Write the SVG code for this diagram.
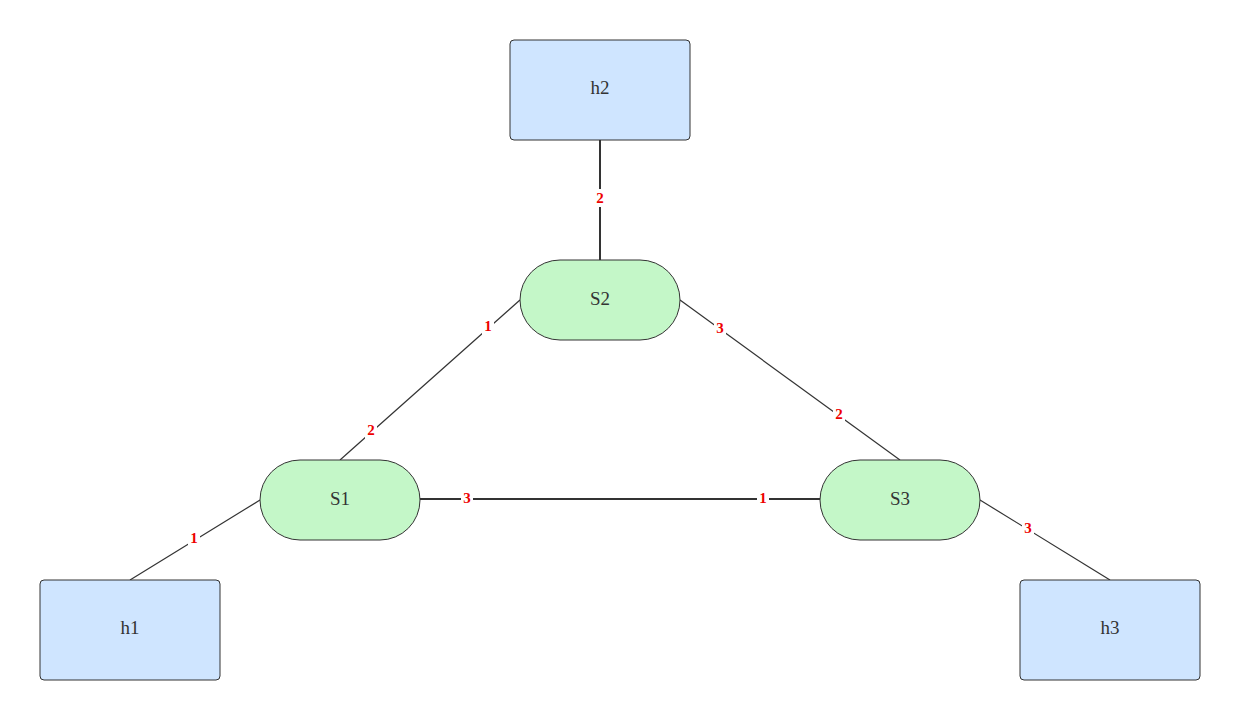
<svg xmlns="http://www.w3.org/2000/svg" width="1240" height="720" viewBox="0 0 1240 720">
<style>
.host{fill:#cfe5ff;stroke:#333;stroke-width:1}
.sw{fill:#c4f7c8;stroke:#333;stroke-width:1}
.nt{font-family:"Liberation Serif","DejaVu Serif",serif;font-size:19px;fill:#333;text-anchor:middle;dominant-baseline:central}
.e{stroke:#333;stroke-width:1.2;fill:none}
.t{stroke-width:2}
.lb{font-family:"Liberation Serif","DejaVu Serif",serif;font-size:15px;font-weight:bold;fill:#ee0000;text-anchor:middle;dominant-baseline:central}
.bg{fill:#fff}
</style>
<rect width="1240" height="720" fill="#fff"/>
<g id="connectors">
<line class="e t" x1="600" y1="140" x2="600" y2="260"/>
<line class="e" x1="520" y1="300" x2="340" y2="460"/>
<line class="e" x1="680" y1="300" x2="900" y2="460"/>
<line class="e t" x1="420" y1="499" x2="820" y2="499"/>
<line class="e" x1="260" y1="500" x2="130" y2="580"/>
<line class="e" x1="980" y1="500" x2="1110" y2="580"/>
<g>
<rect class="bg" x="594" y="189" width="12" height="18"/><text class="lb" x="600" y="198">2</text>
<rect class="bg" x="482" y="317" width="12" height="18"/><text class="lb" x="488" y="326">1</text>
<rect class="bg" x="365" y="421" width="12" height="18"/><text class="lb" x="371" y="430">2</text>
<rect class="bg" x="714" y="319" width="12" height="18"/><text class="lb" x="720" y="328">3</text>
<rect class="bg" x="833" y="405" width="12" height="18"/><text class="lb" x="839" y="414">2</text>
<rect class="bg" x="461" y="489" width="12" height="18"/><text class="lb" x="467" y="498">3</text>
<rect class="bg" x="757" y="489" width="12" height="18"/><text class="lb" x="763" y="498">1</text>
<rect class="bg" x="188" y="529" width="12" height="18"/><text class="lb" x="194" y="538">1</text>
<rect class="bg" x="1022" y="519" width="12" height="18"/><text class="lb" x="1028" y="528">3</text>
</g>
</g>
<g id="h2"><rect class="host" x="510" y="40" width="180" height="100" rx="4"/><text class="nt" x="600" y="87">h2</text></g>
<g id="S2"><rect class="sw" x="520" y="260" width="160" height="80" rx="40"/><text class="nt" x="600" y="298">S2</text></g>
<g id="S1"><rect class="sw" x="260" y="460" width="160" height="80" rx="40"/><text class="nt" x="340" y="498">S1</text></g>
<g id="S3"><rect class="sw" x="820" y="460" width="160" height="80" rx="40"/><text class="nt" x="900" y="498">S3</text></g>
<g id="h1"><rect class="host" x="40" y="580" width="180" height="100" rx="4"/><text class="nt" x="130" y="627">h1</text></g>
<g id="h3"><rect class="host" x="1020" y="580" width="180" height="100" rx="4"/><text class="nt" x="1110" y="627">h3</text></g>
</svg>
